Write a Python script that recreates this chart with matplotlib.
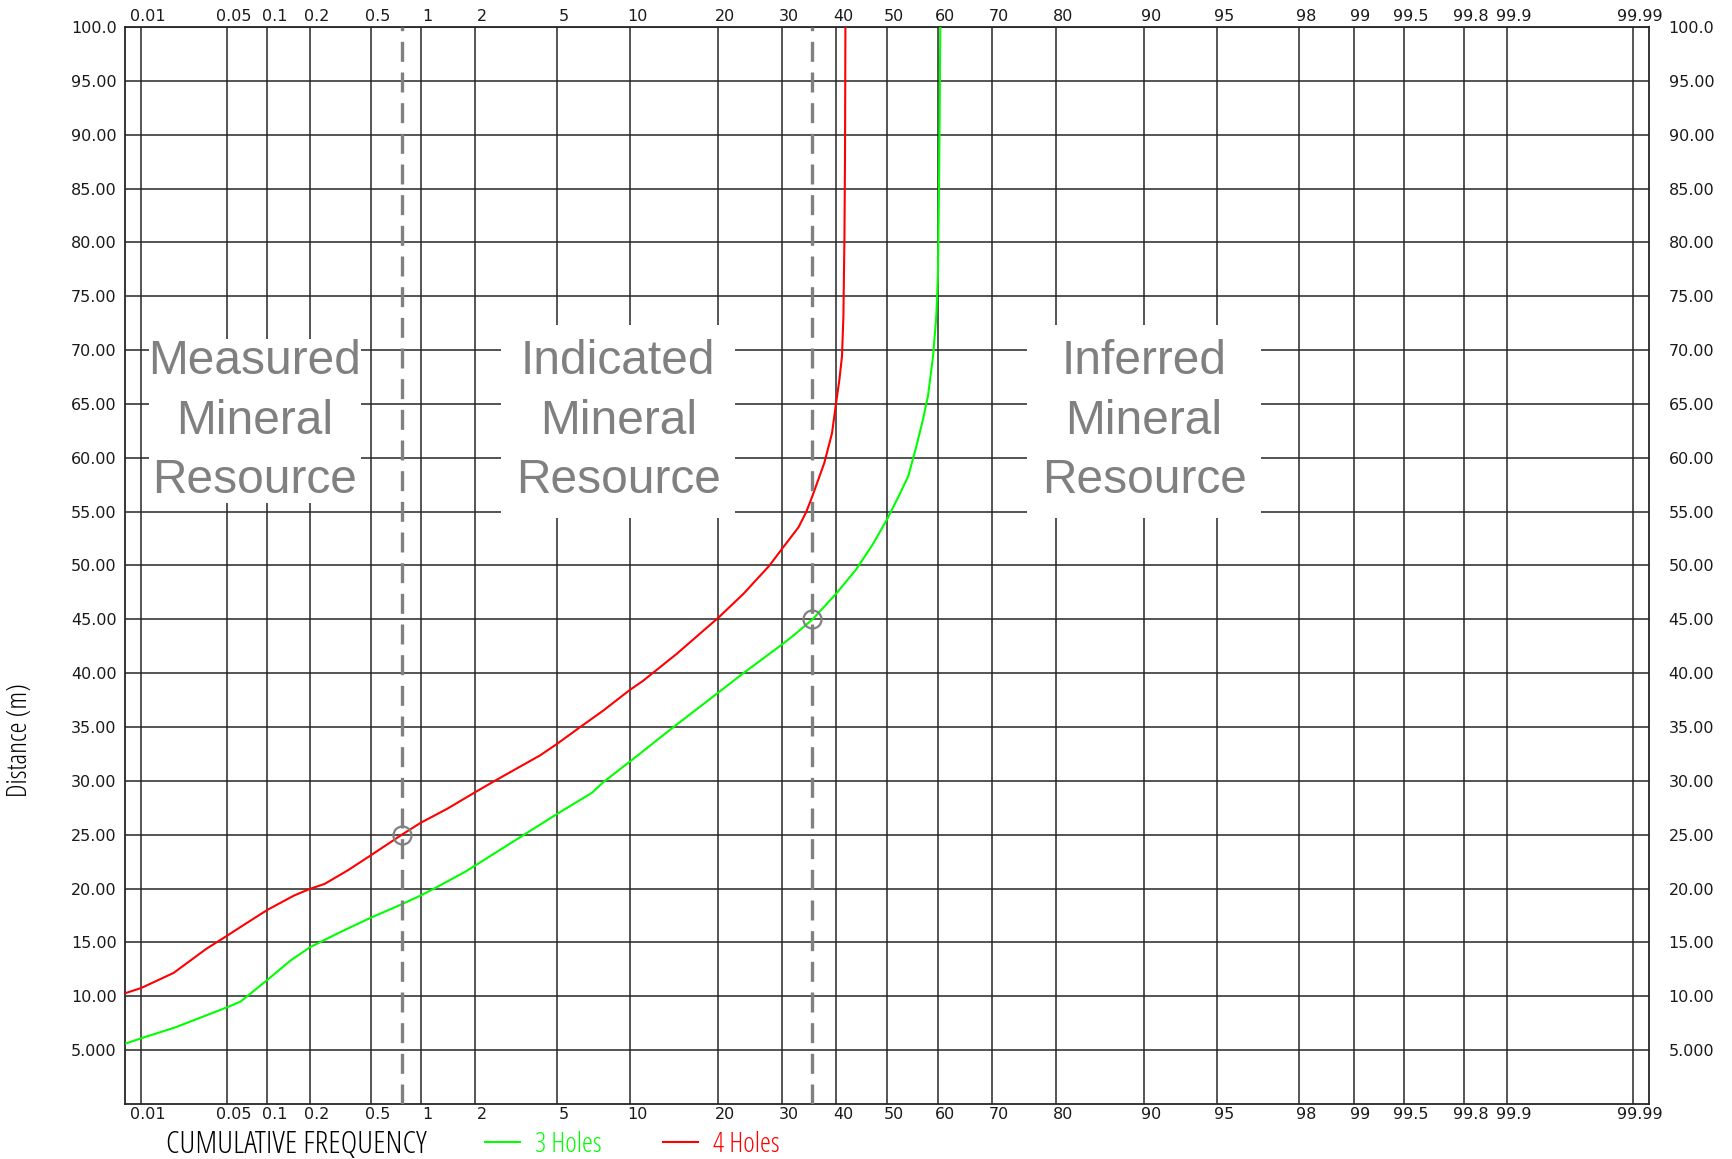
import math
from statistics import NormalDist
import numpy as np
import matplotlib
matplotlib.use("Agg")
import matplotlib.pyplot as plt
import matplotlib.transforms as mtransforms
from matplotlib import font_manager as fm
from matplotlib.lines import Line2D

# cumulative frequency (%) vs distance (m)
freq_3holes = [0.0074, 0.01, 0.0194, 0.05, 0.0631, 0.1, 0.146, 0.2, 0.318, 0.5,
               0.767, 1.0, 1.215, 1.786, 2.0, 3.48, 5.0, 7.06, 7.86, 10.0, 14.33,
               20.08, 23.67, 30.0, 32.03, 35.5, 40.0, 43.84, 47.2, 50.0, 52.47,
               54.2, 55.76, 57.1, 58.08, 59.06, 59.68, 59.99, 60.18, 60.33, 60.45]
dist_3holes = [5.63, 6.10, 7.12, 8.98, 9.50, 11.52, 13.3, 14.55, 15.94, 17.28,
               18.51, 19.35, 20.06, 21.6, 22.14, 24.95, 26.94, 28.9, 29.89, 31.81, 34.99,
               38.24, 40.0, 42.66, 43.5, 45.0, 47.4, 49.62, 52.0, 54.3, 56.59,
               58.3, 61.0, 63.57, 65.77, 69.45, 73.12, 76.79, 84.14, 91.48, 100.0]

freq_4holes = [0.0074, 0.01, 0.0187, 0.0343, 0.05, 0.0675, 0.1, 0.155, 0.2, 0.2515,
               0.356, 0.5, 0.776, 1.0, 1.41, 2.0, 2.52, 4.18, 5.0, 6.29, 7.86, 10.0,
               11.22, 14.71, 20.08, 23.67, 27.86, 30.0, 32.93, 34.31, 35.5, 37.71,
               39.17, 39.94, 40.59, 41.10, 41.37, 41.57, 41.68, 41.76]
dist_4holes = [10.31, 10.77, 12.17, 14.4, 15.63, 16.66, 18.02, 19.35, 19.97, 20.43,
               21.67, 23.07, 25.0, 26.1, 27.4, 28.95, 30.0, 32.37, 33.45, 34.99, 36.54, 38.46,
               39.32, 41.8, 45.2, 47.36, 49.99, 51.54, 53.55, 54.94, 56.48, 59.53,
               62.28, 65.04, 67.24, 69.45, 73.12, 80.46, 87.81, 100.0]

cutoff_freq = [0.78, 35.4]
cutoff_dist = [25, 45]

x_ticks = [0.01, 0.05, 0.1, 0.2, 0.5, 1, 2, 5, 10, 20, 30, 40, 50, 60, 70, 80, 90,
           95, 98, 99, 99.5, 99.8, 99.9, 99.99]
x_labels = ["0.01", "0.05", "0.1", "0.2", "0.5", "1", "2", "5", "10", "20", "30", "40",
            "50", "60", "70", "80", "90", "95", "98", "99", "99.5", "99.8", "99.9", "99.99"]
y_ticks = [5, 10, 15, 20, 25, 30, 35, 40, 45, 50, 55, 60, 65, 70, 75, 80, 85, 90, 95, 100]
y_labels = ["5.000", "10.00", "15.00", "20.00", "25.00", "30.00", "35.00", "40.00",
            "45.00", "50.00", "55.00", "60.00", "65.00", "70.00", "75.00", "80.00",
            "85.00", "90.00", "95.00", "100.0"]

zone_names = ["Measured\nMineral\nResource", "Indicated\nMineral\nResource",
              "Inferred\nMineral\nResource"]
zone_x = [0.081, 9.0, 90.0]
zone_y = [63.4, 63.4, 63.4]
zone_pad = [0.0, 0.3, 0.3]

nd = NormalDist()
_ppf = np.vectorize(nd.inv_cdf, otypes=[float])
_erf = np.vectorize(math.erf, otypes=[float])


def prob_fwd(p):
    p = np.clip(np.asarray(p, dtype=float) / 100.0, 1e-12, 1 - 1e-12)
    return _ppf(p)


def prob_inv(z):
    z = np.asarray(z, dtype=float)
    return 50.0 * (1.0 + _erf(z / math.sqrt(2.0)))


# a narrow face for the axis title / legend if one is installed
cond = {}
for f in fm.fontManager.ttflist:
    if f.stretch in ("condensed", "semi-condensed", "extra-condensed"):
        cond.setdefault(f.name, f.stretch)
narrow_name, narrow_stretch, scale = "DejaVu Sans", "normal", 0.85
for name in ["Liberation Sans Narrow", "Roboto", "Noto Sans", "Open Sans", "DejaVu Sans"]:
    if name in cond:
        narrow_name, narrow_stretch, scale = name, cond[name], 1.0
        break


def narrow(size):
    return fm.FontProperties(family=narrow_name, stretch=narrow_stretch, size=size * scale)


grid_c = "#262626"
tick_c = "#1a1a1a"

fig = plt.figure(figsize=(17.32, 11.59), dpi=100)
ax = fig.add_axes([0.0722, 0.0475, 0.880, 0.9292])

ax.set_xscale("function", functions=(prob_fwd, prob_inv))
ax.set_xlim(0.007235, 99.992765)
ax.set_ylim(0, 100)

ax.set_xticks(x_ticks, labels=x_labels)
ax.set_yticks(y_ticks, labels=y_labels)
ax.minorticks_off()
ax.tick_params(axis="both", length=0, labelsize=11.5, labelcolor=tick_c)
ax.tick_params(axis="x", pad=2.5, labeltop=True)
ax.tick_params(axis="y", pad=6)
ax.grid(True, color=grid_c, linewidth=1.1)
ax.set_axisbelow(True)
for s in ax.spines.values():
    s.set_color(grid_c)
    s.set_linewidth(1.3)

# top/bottom percent labels sit a little right of their grid lines
shift = mtransforms.ScaledTranslation(5 / 72, 0, fig.dpi_scale_trans)
for tk in ax.xaxis.get_major_ticks():
    tk.label1.set_transform(tk.label1.get_transform() + shift)
    tk.label2.set_transform(tk.label2.get_transform() + shift)

# right hand labels
axr = ax.twinx()
axr.set_ylim(0, 100)
axr.set_yticks(y_ticks, labels=y_labels)
axr.tick_params(axis="y", length=0, pad=14, labelsize=11.5, labelcolor=tick_c)
for s in axr.spines.values():
    s.set_visible(False)

ax.plot(freq_3holes, dist_3holes, color="#00ff00", lw=1.5, zorder=3, label="3 Holes")
ax.plot(freq_4holes, dist_4holes, color="#ff0000", lw=1.5, zorder=3, label="4 Holes")

for xv in cutoff_freq:
    ax.axvline(xv, color="#808080", lw=2.4, linestyle=(0, (6, 3.2)), zorder=4)
ax.plot(cutoff_freq, cutoff_dist, linestyle="none", marker="o",
        ms=13, mfc="none", mec="#808080", mew=1.6, zorder=5)

for name, xv, yv, pad in zip(zone_names, zone_x, zone_y, zone_pad):
    ax.text(xv, yv, name, ha="center", va="center", fontsize=34.5, color="#808080",
            family=["Liberation Sans", "DejaVu Sans"], linespacing=1.42, zorder=6,
            bbox=dict(boxstyle=f"square,pad={pad}", fc="white", ec="none"))

fig.text(0.0115, 0.3615, "Distance (m)", rotation=90, ha="center", va="center",
         fontproperties=narrow(20), color="black")
fig.text(0.171, 0.0125, "CUMULATIVE FREQUENCY", ha="center", va="center",
         fontproperties=narrow(23), color="black")

handles = [Line2D([], [], color="#00ff00", lw=1.5), Line2D([], [], color="#ff0000", lw=1.5)]
fig.legend(handles, ["3 Holes", "4 Holes"], loc="center", bbox_to_anchor=(0.365, 0.0125),
           ncol=2, frameon=False, handlelength=1.27, handletextpad=0.52, columnspacing=2.23,
           labelcolor=["#00ff00", "#ff0000"], prop=narrow(20),
           borderpad=0, borderaxespad=0)

fig.savefig("out.png", dpi=100)
